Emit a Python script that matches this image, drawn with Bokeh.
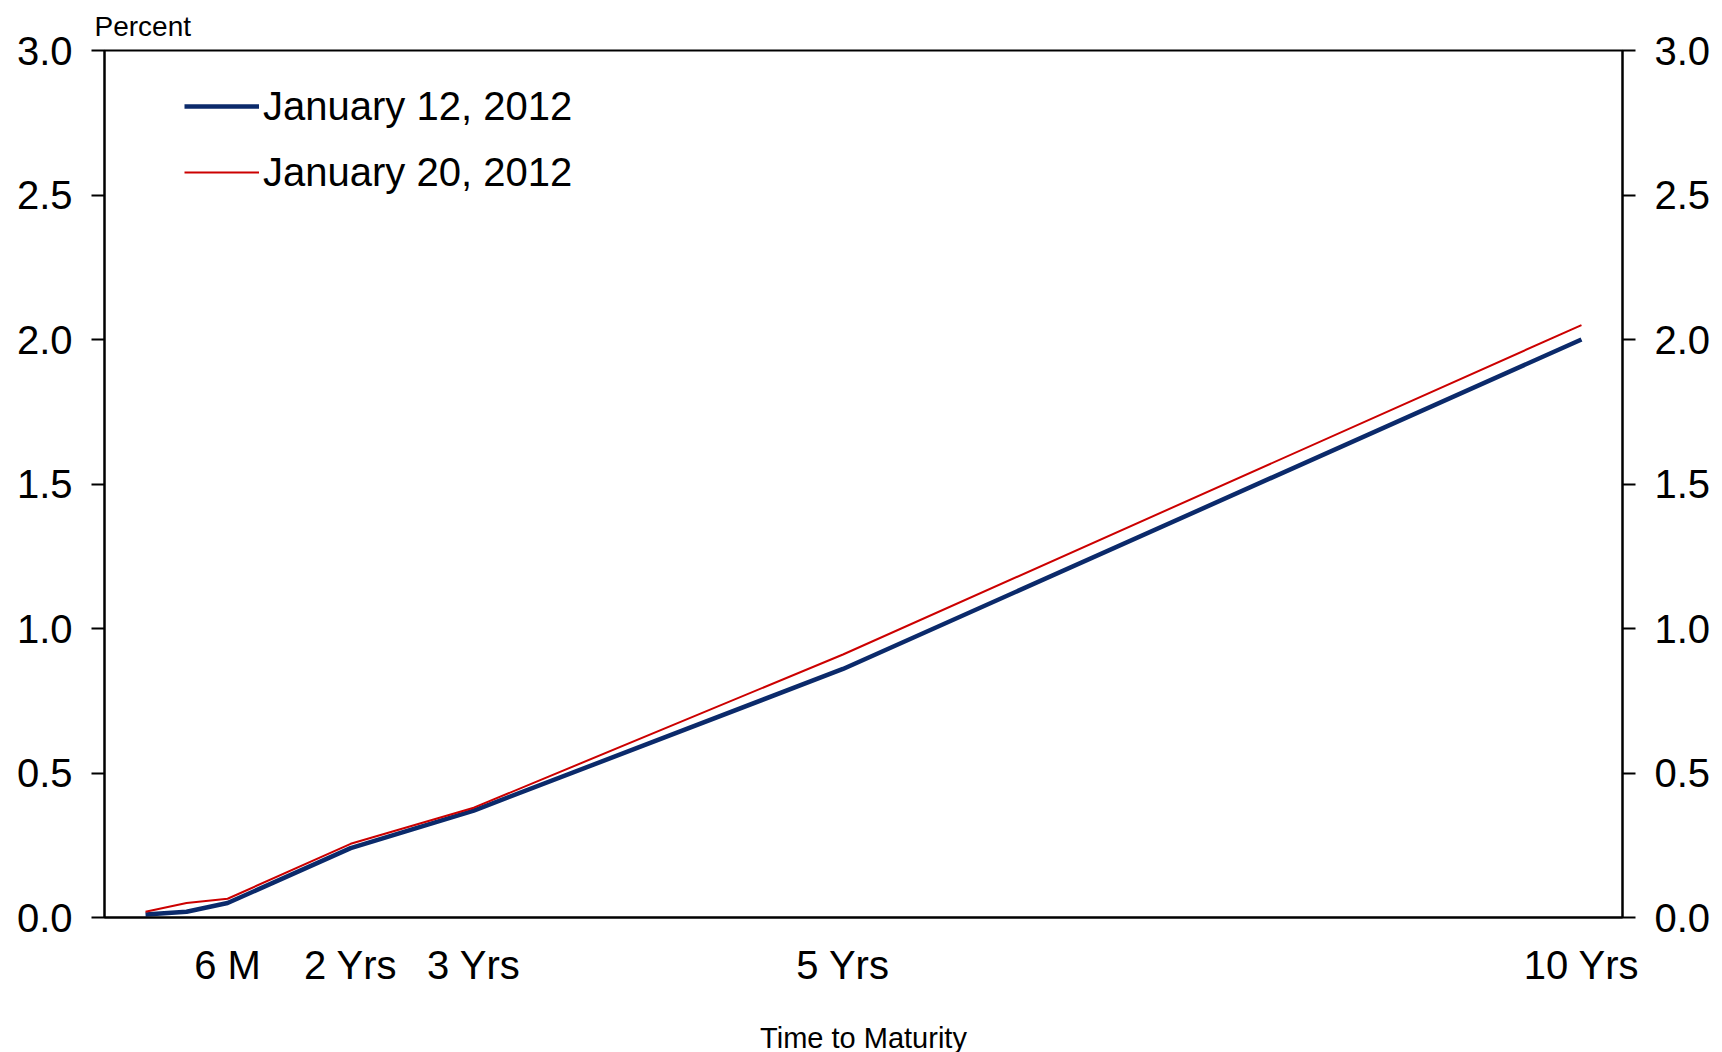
from bokeh.plotting import figure
from bokeh.models import FixedTicker, Range1d, LinearAxis, Title, Legend, LegendItem, ColumnDataSource
from bokeh.embed import file_html
from bokeh.resources import INLINE

# Data
maturities = ["1 M", "3 M", "6 M", "2 Yrs", "3 Yrs", "5 Yrs", "10 Yrs"]
maturity_pos = [1, 2, 3, 6, 9, 18, 36]
jan12 = [0.01, 0.02, 0.05, 0.24, 0.37, 0.86, 2.00]
jan20 = [0.02, 0.05, 0.065, 0.255, 0.38, 0.91, 2.05]
tick_pos = [3, 6, 9, 18, 36]
tick_labels = ["6 M", "2 Yrs", "3 Yrs", "5 Yrs", "10 Yrs"]
y_ticks = [0.0, 0.5, 1.0, 1.5, 2.0, 2.5, 3.0]

FONT = "Liberation Sans"

p = figure(
    width=1714, height=1046,
    frame_width=1518, frame_height=867,
    x_range=Range1d(0, 37), y_range=Range1d(0, 3),
    output_backend="svg", toolbar_location=None,
    min_border_left=104, min_border_right=92, min_border_top=49, min_border_bottom=130,
)
p.background_fill_color = "white"
p.border_fill_color = "white"
p.grid.visible = False
p.outline_line_color = "black"
p.outline_line_width = 2

src = ColumnDataSource(dict(x=maturity_pos, a=jan12, b=jan20))
r1 = p.line("x", "a", source=src, line_color="#0B2A6B", line_width=4.5)
r2 = p.line("x", "b", source=src, line_color="#CC0000", line_width=2)

# x axis
xa = p.xaxis[0]
xa.ticker = FixedTicker(ticks=tick_pos)
xa.major_label_overrides = {t: l for t, l in zip(tick_pos, tick_labels)}
xa.major_tick_line_color = None
xa.minor_tick_line_color = None
xa.axis_line_color = "black"
xa.axis_line_width = 2
xa.major_label_text_font = FONT
xa.major_label_text_font_size = "40px"
xa.major_label_text_color = "black"
xa.major_label_standoff = 19
xa.axis_label = "Time to Maturity"
xa.axis_label_text_font = FONT
xa.axis_label_text_font_size = "29px"
xa.axis_label_text_font_style = "normal"
xa.axis_label_text_color = "black"
xa.axis_label_standoff = 32

def style_y(ax):
    ax.ticker = FixedTicker(ticks=y_ticks)
    ax.major_label_overrides = {t: f"{t:.1f}" for t in y_ticks}
    ax.major_tick_out = 13
    ax.major_tick_in = 0
    ax.major_tick_line_width = 2
    ax.major_tick_line_color = "black"
    ax.minor_tick_line_color = None
    ax.axis_line_color = "black"
    ax.axis_line_width = 2
    ax.major_label_text_font = FONT
    ax.major_label_text_font_size = "40px"
    ax.major_label_text_color = "black"
    ax.major_label_standoff = 19

style_y(p.yaxis[0])
ry = LinearAxis(y_range_name="default")
p.add_layout(ry, "right")
style_y(ry)

p.add_layout(Title(text="Percent", align="left", offset=-10, standoff=17,
                   text_font=FONT, text_font_size="28px", text_font_style="normal",
                   text_color="black"), "above")

legend = Legend(items=[LegendItem(label="January 12, 2012", renderers=[r1]),
                       LegendItem(label="January 20, 2012", renderers=[r2])],
                location=(80, 722), padding=0, margin=0, spacing=20,
                glyph_width=75, glyph_height=46, label_height=46, label_standoff=4,
                label_text_font=FONT, label_text_font_size="40px", label_text_color="black",
                border_line_color=None, background_fill_alpha=0)
p.add_layout(legend)

open("out.html", "w").write(file_html(p, INLINE))
